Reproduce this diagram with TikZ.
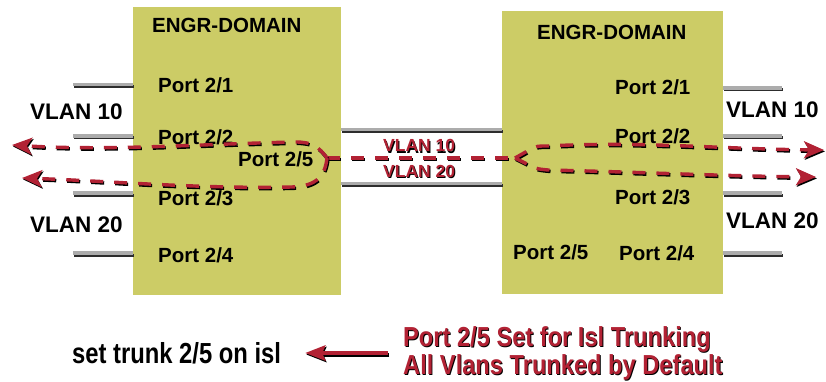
\documentclass[tikz,border=0pt]{standalone}
\usepackage{fontspec}
\setmainfont{Liberation Sans}
\usepackage{graphicx}
\usetikzlibrary{arrows.meta}

\definecolor{boxolive}{RGB}{204,204,102}
\definecolor{flowred}{RGB}{178,34,52}
\definecolor{stubgray}{RGB}{172,172,172}
\definecolor{stubdark}{RGB}{45,45,45}

% red lettering with a thin black drop shadow
\newcommand\shadowed[1]{\rlap{\kern1pt\raisebox{-1.3pt}{\color{black}#1}}{\color{flowred}#1}}

\tikzset{
  switchbox/.style={fill=boxolive, draw=none, inner sep=0pt},
  portlbl/.style={font=\bfseries\fontsize{20.5}{24}\selectfont, inner sep=0pt, anchor=base west},
  vlanlbl/.style={font=\bfseries\fontsize{22.5}{26}\selectfont, inner sep=0pt, anchor=base west},
  trunklbl/.style={font=\bfseries\fontsize{17.5}{20}\selectfont, inner sep=0pt, anchor=base west},
  stubtop/.style={draw=stubgray, line width=3.5pt},
  stubshade/.style={draw=stubdark, line width=3pt, transform canvas={xshift=0.8pt, yshift=-2pt}},
  flow/.style={draw=flowred, line width=3.4pt, dash pattern=on 13pt off 11pt},
  flowshade/.style={flow, draw=black, transform canvas={xshift=1pt, yshift=-1.4pt}},
  tip/.style={-{Stealth[length=20pt, width=17pt, inset=5pt]}},
  pointer/.style={draw=flowred, line width=4pt, -{Stealth[length=20pt, width=15pt, inset=3pt]}},
  pointershade/.style={pointer, draw=black, transform canvas={xshift=1pt, yshift=-1.5pt}},
}
% draw a path first as a dark drop shadow, then in its own colour
\newcommand\shadedpath[3]{\draw[#2] #3; \draw[#1] #3;}

\begin{document}
\begin{tikzpicture}[x=1pt, y=-1pt]
\useasboundingbox (0,0) rectangle (826,382);

% the two switches
\node[switchbox, minimum width=208pt, minimum height=288pt] (lsw) at (237,151) {};
\node[switchbox, minimum width=221pt, minimum height=283pt] (rsw) at (612.5,152.5) {};

% access ports, left switch
\coordinate (la) at (73,84.5);
\coordinate (lb) at (73,136);
\coordinate (lc) at (73,193);
\coordinate (ld) at (73,253);
\foreach \c in {la,lb,lc,ld} {\shadedpath{stubtop}{stubshade}{(\c) -- (\c -| lsw.west)}}

% access ports, right switch
\coordinate (ra) at (782,88);
\coordinate (rb) at (782,136);
\coordinate (rc) at (782,193);
\coordinate (rd) at (782,253);
\foreach \c in {ra,rb,rc,rd} {\shadedpath{stubtop}{stubshade}{(rsw.east |- \c) -- (\c)}}

% trunk link between the switches
\coordinate (tt) at (400,129.5);
\coordinate (tb) at (400,183.5);
\shadedpath{stubtop}{stubshade}{(lsw.east |- tt) -- (rsw.west |- tt)}
\shadedpath{stubtop}{stubshade}{(lsw.east |- tb) -- (rsw.west |- tb)}

% switch titles and port labels
\node[portlbl] (ltitle) at (152,32.3) {ENGR-DOMAIN};
\node[portlbl] (lp1) at (158,92.3) {Port 2/1};
\node[portlbl] (lp2) at (158,144.3) {Port 2/2};
\node[portlbl] (lp3) at (158,205.3) {Port 2/3};
\node[portlbl] (lp4) at (158,262.3) {Port 2/4};
\node[portlbl] (lp5) at (238,166.3) {Port 2/5};

\node[portlbl] (rtitle) at (537,39.3) {ENGR-DOMAIN};
\node[portlbl] (rp1) at (615,94.3) {Port 2/1};
\node[portlbl] (rp2) at (615,143.3) {Port 2/2};
\node[portlbl] (rp3) at (615,204.3) {Port 2/3};
\node[portlbl] (rp4) at (619,260.3) {Port 2/4};
\node[portlbl] (rp5) at (513,259.3) {Port 2/5};

% VLAN labels
\node[vlanlbl] (lv10) at (30,120) {VLAN 10};
\node[vlanlbl] (lv20) at (30,232) {VLAN 20};
\node[vlanlbl] (rv10) at (726,118) {VLAN 10};
\node[vlanlbl] (rv20) at (726,228) {VLAN 20};

\node[trunklbl] (tv10) at (383,152) {\shadowed{VLAN 10}};
\node[trunklbl] (tv20) at (383,177) {\shadowed{VLAN 20}};

% VLAN traffic carried over the trunk
\coordinate (ljunc) at (327,158);
\coordinate (rjunc) at (515,158);
\shadedpath{flow}{flowshade}{(ljunc) -- (rjunc)}

\shadedpath{flow,tip}{flowshade,tip}{(ljunc) .. controls (318,146) and (312,142) .. (295,142)
  .. controls (200,144) and (110,151) .. (12,145)}
\shadedpath{flow,tip}{flowshade,tip}{(ljunc) .. controls (325,175) and (318,186) .. (292,187)
  .. controls (200,189) and (110,181) .. (22,178)}

\shadedpath{flow,tip}{flowshade,tip}{(rjunc) -- (531,149) .. controls (537,146) .. (548,146)
  .. controls (640,141) and (720,149) .. (824,150)}
\shadedpath{flow,tip}{flowshade,tip}{(rjunc) -- (533,167) .. controls (538,169) .. (548,170)
  .. controls (640,172) and (720,176) .. (816,177)}

% configuration note
\node[font=\bfseries\fontsize{29}{30}\selectfont, inner sep=0pt, anchor=base west] (cmd)
  at (72,363) {\scalebox{0.82}[1]{set trunk 2/5 on isl}};
\node[font=\bfseries\fontsize{27.5}{26.5}\selectfont, inner sep=0pt, anchor=west, align=left] (note)
  at (403,354) {\scalebox{0.86}[1]{\shadowed{Port 2/5 Set for Isl Trunking}}\\
                \scalebox{0.86}[1]{\shadowed{All Vlans Trunked by Default}}};
\coordinate (pstart) at ([xshift=-15pt, yshift=1pt]note.west);
\coordinate (ptip) at ([xshift=24pt]cmd.east);
\shadedpath{pointer}{pointershade}{(pstart) -- (pstart -| ptip)}
\end{tikzpicture}
\end{document}
